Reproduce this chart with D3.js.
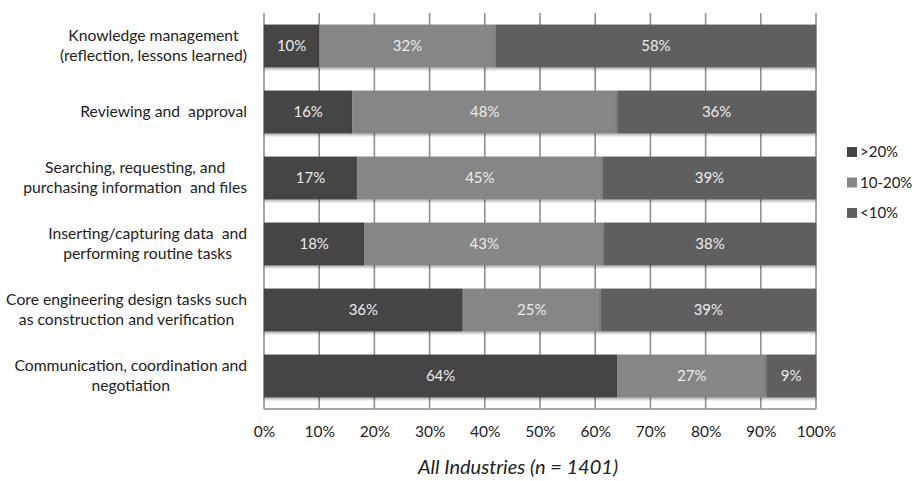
<!DOCTYPE html>
<html>
<head>
<meta charset="utf-8">
<script src="https://cdn.jsdelivr.net/npm/d3@7"></script>
<style>
  body { margin: 0; background: #fff; }
  svg { font-family: Lato, "Open Sans", sans-serif; }
</style>
</head>
<body>
<svg id="chart" width="912" height="481"></svg>
<script>
// categories, top to bottom
var categories = [
  ['Knowledge management', '(reflection, lessons learned)'],
  ['Reviewing and  approval'],
  ['Searching, requesting, and', 'purchasing information  and files'],
  ['Inserting/capturing data  and', 'performing routine tasks'],
  ['Core engineering design tasks such', 'as construction and verification'],
  ['Communication, coordination and', 'negotiation']
];
var seriesNames = ['>20%', '10-20%', '<10%'];
var over20 = [10, 16, 17, 18, 36, 64];
var between10and20 = [32, 48, 45, 43, 25, 27];
var under10 = [58, 36, 39, 38, 39, 9];
var tickValues = [0, 0.1, 0.2, 0.3, 0.4, 0.5, 0.6, 0.7, 0.8, 0.9, 1];
var colors = ['#454545', '#868686', '#5f5f5f'];

var svg = d3.select('#chart');
var plotLeft = 264, plotRight = 816, plotTop = 13, plotBottom = 409;

var rows = categories.map(function(c, i) {
  return {key: i, '>20%': over20[i], '10-20%': between10and20[i], '<10%': under10[i]};
});
var stacked = d3.stack().keys(seriesNames).offset(d3.stackOffsetExpand)(rows);

var x = d3.scaleLinear().domain([0, 1]).range([plotLeft, plotRight]);
var y = d3.scaleBand().domain(d3.range(categories.length)).range([plotTop, plotBottom]).paddingInner(0.35).paddingOuter(0.175);

var defs = svg.append('defs');
var f = defs.append('filter').attr('id', 'shadow').attr('x', '-5%').attr('y', '-20%').attr('width', '110%').attr('height', '150%');
f.append('feDropShadow').attr('dx', 0).attr('dy', 2).attr('stdDeviation', 1.2).attr('flood-color', '#000').attr('flood-opacity', 0.3);

// gridlines
svg.append('g').selectAll('line')
  .data(tickValues)
  .enter().append('line')
  .attr('x1', function(d) { return x(d); })
  .attr('x2', function(d) { return x(d); })
  .attr('y1', plotTop).attr('y2', plotBottom)
  .style('stroke', '#8a8a8a')
  .style('stroke-width', 1.5);

svg.append('line')
  .attr('x1', plotLeft).attr('x2', plotRight).attr('y1', plotBottom).attr('y2', plotBottom)
  .style('stroke', '#8a8a8a').style('stroke-width', 1.5);

// bars
var layers = svg.append('g').selectAll('g')
  .data(stacked)
  .enter().append('g')
  .style('fill', function(d, i) { return colors[i]; });

layers.selectAll('rect')
  .data(function(d) { return d; })
  .enter().append('rect')
  .attr('x', function(d) { return x(d[0]); })
  .attr('width', function(d) { return x(d[1]) - x(d[0]); })
  .attr('y', function(d, i) { return y(i); })
  .attr('height', y.bandwidth())
  .attr('filter', 'url(#shadow)');

layers.selectAll('text')
  .data(function(d) { return d.map(function(p) { return {p: p, key: d.key}; }); })
  .enter().append('text')
  .attr('x', function(d) { return (x(d.p[0]) + x(d.p[1])) / 2; })
  .attr('y', function(d, i) { return y(i) + y.bandwidth() / 2; })
  .attr('dy', '0.35em')
  .attr('text-anchor', 'middle')
  .style('fill', '#ececec')
  .style('font-size', '15px')
  .text(function(d) { return d.p.data[d.key] + '%'; });

// category labels
categories.forEach(function(lines, i) {
  var g = svg.append('g');
  var cy = y(i) + y.bandwidth() / 2;
  var texts = lines.map(function(t, j) {
    return g.append('text')
      .attr('y', cy + (j - (lines.length - 1) / 2) * 20)
      .attr('dy', '0.35em')
      .attr('text-anchor', 'middle')
      .style('font-size', '15.7px')
      .style('fill', '#222')
      .style('white-space', 'pre')
      .text(t);
  });
  var maxW = d3.max(texts, function(t) { return t.node().getComputedTextLength(); });
  texts.forEach(function(t) { t.attr('x', 247 - maxW / 2); });
});

// x axis labels
var xAxis = d3.axisBottom(x).tickValues(tickValues).tickFormat(d3.format('.0%')).tickSize(0).tickPadding(17);
var ax = svg.append('g').attr('transform', 'translate(0,' + plotBottom + ')').call(xAxis);
ax.select('.domain').remove();
ax.selectAll('text').style('font-size', '15.5px').style('fill', '#222').style('font-family', 'Lato, sans-serif');

svg.append('text')
  .attr('x', 518).attr('y', 467)
  .attr('dy', '0.35em')
  .attr('text-anchor', 'middle')
  .style('font-style', 'italic')
  .style('font-size', '20px')
  .style('fill', '#222')
  .text('All Industries (n = 1401)');

// legend
var legend = svg.append('g').selectAll('g')
  .data(seriesNames)
  .enter().append('g')
  .attr('transform', function(d, i) { return 'translate(847,' + (152 + i * 30.5) + ')'; });
legend.append('rect')
  .attr('x', 0).attr('y', -5).attr('width', 10).attr('height', 10)
  .style('fill', function(d, i) { return colors[i]; });
legend.append('text')
  .attr('x', 13).attr('dy', '0.35em')
  .style('font-size', '15px')
  .style('fill', '#222')
  .text(function(d) { return d; });
</script>
</body>
</html>
